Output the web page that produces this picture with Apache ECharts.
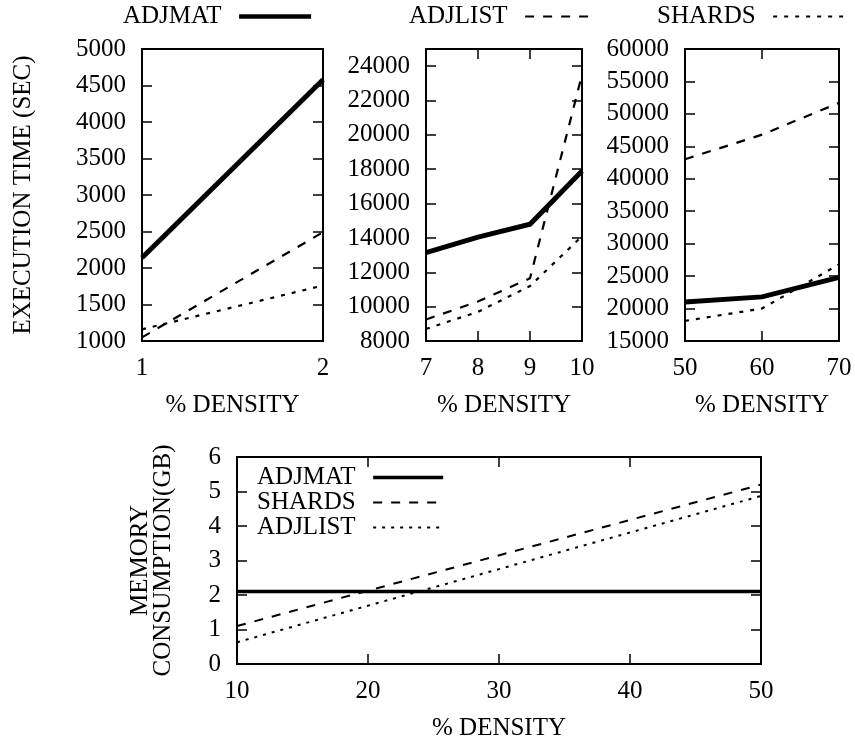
<!DOCTYPE html>
<html>
<head>
<meta charset="utf-8">
<script src="https://cdn.jsdelivr.net/npm/echarts@6/dist/echarts.min.js"></script>
<style>
html,body{margin:0;padding:0;background:#fff;}
#chart{width:855px;height:742px;}
</style>
</head>
<body>
<div id="chart"></div>
<script>
// ---- Data ----
const seriesNames = ['ADJMAT', 'ADJLIST', 'SHARDS'];

const p1X = [1, 2];
const p1Adjmat = [2140, 4580];
const p1Adjlist = [1050, 2490];
const p1Shards = [1160, 1760];

const p2X = [7, 8, 9, 10];
const p2Adjmat = [13150, 14050, 14800, 17900];
const p2Adjlist = [9250, 10300, 11650, 23500];
const p2Shards = [8700, 9700, 11200, 14100];

const p3X = [50, 60, 70];
const p3Adjmat = [21000, 21800, 24800];
const p3Adjlist = [43000, 46800, 51700];
const p3Shards = [18100, 20000, 26800];

const memNames = ['ADJMAT', 'SHARDS', 'ADJLIST'];
const memX = [10, 50];
const memAdjmat = [2.1, 2.1];
const memShards = [1.1, 5.2];
const memAdjlist = [0.63, 4.87];

const yTitleTop = 'EXECUTION TIME (SEC)';
const yTitleBottom = 'MEMORY\nCONSUMPTION(GB)';
const xTitle = '% DENSITY';

// ---- Build ----
const FONT = 'Liberation Serif, Times New Roman, serif';
const FS = 25;
const pair = (xs, ys) => xs.map((x, i) => [x, ys[i]]);

const grids = [
  {left: 142, top: 49, width: 181, height: 292},
  {left: 426, top: 49, width: 156, height: 292},
  {left: 685, top: 49, width: 154, height: 292},
  {left: 237, top: 457, width: 524, height: 210}
];
const xr = [[1, 2, 1], [7, 10, 1], [50, 70, 10], [10, 50, 10]];
const yr = [[1000, 5000, 500], [8000, 25000, 2000], [15000, 60000, 5000], [0, 6, 1]];

const axisLine = {show: true, onZero: false, lineStyle: {color: '#000', width: 2}};
const axisTick = {show: true, inside: true, length: 10, lineStyle: {color: '#000', width: 1.5}};
const labelStyle = {color: '#000', fontFamily: FONT, fontSize: FS};

const xAxis = [], yAxis = [];
grids.forEach((g, i) => {
  xAxis.push({
    type: 'value', gridIndex: i, position: 'bottom', min: xr[i][0], max: xr[i][1], interval: xr[i][2],
    axisLine, axisTick, splitLine: {show: false},
    axisLabel: Object.assign({margin: 15}, labelStyle),
    name: xTitle, nameLocation: 'middle', nameGap: 52,
    nameTextStyle: {color: '#000', fontFamily: FONT, fontSize: FS}
  });
  xAxis.push({
    type: 'value', gridIndex: i, position: 'top', min: xr[i][0], max: xr[i][1], interval: xr[i][2],
    axisLine, axisTick, splitLine: {show: false}, axisLabel: {show: false}
  });
  const yMax = yr[i][1];
  yAxis.push({
    type: 'value', gridIndex: i, position: 'left', min: yr[i][0], max: yMax, interval: yr[i][2],
    axisLine, axisTick, splitLine: {show: false},
    axisLabel: Object.assign({margin: 16, formatter: v => ((v - yr[i][0]) % yr[i][2] === 0 ? String(v) : '')}, labelStyle),
    name: i === 0 ? yTitleTop : (i === 3 ? yTitleBottom : ''),
    nameLocation: 'middle', nameGap: i === 0 ? 107 : 62,
    nameTextStyle: {color: '#000', fontFamily: FONT, fontSize: FS, lineHeight: 23}
  });
  yAxis.push({
    type: 'value', gridIndex: i, position: 'right', min: yr[i][0], max: yMax, interval: yr[i][2],
    axisLine, axisTick, splitLine: {show: false}, axisLabel: {show: false}
  });
});

const styles = {
  ADJMAT: {type: 'solid', width: 5},
  ADJLIST: {type: [9, 9], width: 2.2},
  SHARDS: {type: [4, 7], width: 2.2}
};
const memStyles = {
  ADJMAT: {type: 'solid', width: 3.5},
  SHARDS: {type: [9, 9], width: 2},
  ADJLIST: {type: [3, 6], width: 2}
};

function mk(name, gi, data, st) {
  return {
    name, type: 'line', xAxisIndex: gi * 2, yAxisIndex: gi * 2, data,
    symbol: 'none', animation: false, silent: true,
    lineStyle: {color: '#000', width: st.width, type: st.type, cap: 'butt', join: 'miter'},
    itemStyle: {color: '#000'}
  };
}

const series = [
  mk('ADJMAT', 0, pair(p1X, p1Adjmat), styles.ADJMAT),
  mk('ADJLIST', 0, pair(p1X, p1Adjlist), styles.ADJLIST),
  mk('SHARDS', 0, pair(p1X, p1Shards), styles.SHARDS),
  mk('ADJMAT', 1, pair(p2X, p2Adjmat), styles.ADJMAT),
  mk('ADJLIST', 1, pair(p2X, p2Adjlist), styles.ADJLIST),
  mk('SHARDS', 1, pair(p2X, p2Shards), styles.SHARDS),
  mk('ADJMAT', 2, pair(p3X, p3Adjmat), styles.ADJMAT),
  mk('ADJLIST', 2, pair(p3X, p3Adjlist), styles.ADJLIST),
  mk('SHARDS', 2, pair(p3X, p3Shards), styles.SHARDS),
  mk('M_ADJMAT', 3, pair(memX, memAdjmat), memStyles.ADJMAT),
  mk('M_SHARDS', 3, pair(memX, memShards), memStyles.SHARDS),
  mk('M_ADJLIST', 3, pair(memX, memAdjlist), memStyles.ADJLIST)
];

const legendBase = {
  orient: 'horizontal', align: 'right', itemWidth: 72, itemHeight: 14, selectedMode: false,
  textStyle: {color: '#000', fontFamily: FONT, fontSize: FS},
  itemStyle: {color: 'rgba(0,0,0,0)', borderWidth: 0},
  formatter: n => n.replace(/^M_/, '') + '  ', padding: 0
};
const topLefts = [123, 409, 657];
const topLegendWidths = {ADJMAT: 4.5, ADJLIST: 2.2, SHARDS: 2.2};
const memLegendWidths = {ADJMAT: 3.5, SHARDS: 2, ADJLIST: 2};
const legends = seriesNames.map((n, i) => Object.assign({}, legendBase, {
  data: [{name: n, lineStyle: {width: topLegendWidths[n]}}], left: topLefts[i], top: 4
}));
legends.push(Object.assign({}, legendBase, {
  orient: 'vertical', itemWidth: 70, itemGap: 0, left: 257, top: 465,
  data: memNames.map(n => ({name: 'M_' + n, lineStyle: {width: memLegendWidths[n]}}))
}));

const chart = echarts.init(document.getElementById('chart'), null, {renderer: 'canvas'});
chart.setOption({
  backgroundColor: '#fff',
  animation: false,
  grid: grids,
  xAxis, yAxis, series,
  legend: legends
});
</script>
</body>
</html>
